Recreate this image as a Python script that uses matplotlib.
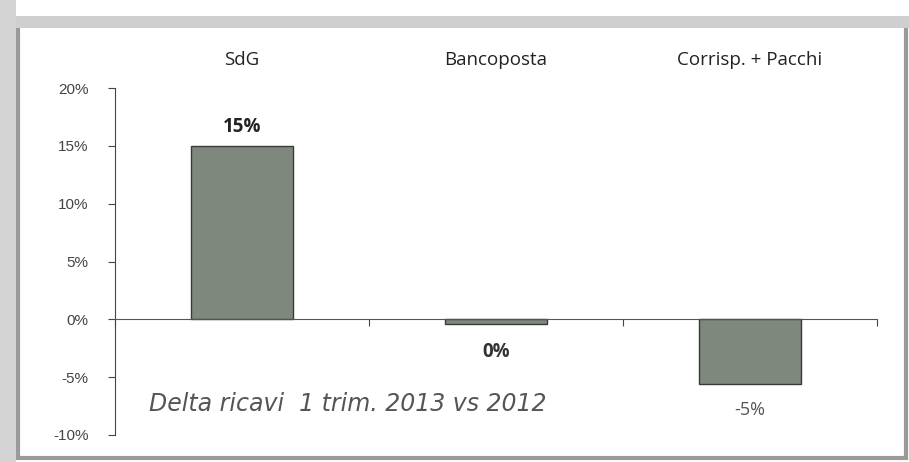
import matplotlib.pyplot as plt
from matplotlib.patches import Rectangle
import numpy as np

# delta ricavi 1 trim. 2013 vs 2012
categories = ["SdG", "Bancoposta", "Corrisp. + Pacchi"]
values = [15.0, -0.4, -5.6]
value_labels = ["15%", "0%", "-5%"]
yticks = [-10, -5, 0, 5, 10, 15, 20]

W, H = 909, 462
fig = plt.figure(figsize=(W / 100, H / 100), dpi=100)
fig.patch.set_facecolor("white")

# scanned frame around the chart
fig.patches.append(Rectangle((18 / W, 4 / H), 888 / W, 434 / H, transform=fig.transFigure,
                             fill=False, edgecolor="#9a9a9a", linewidth=3))
fig.patches.append(Rectangle((0, 0), 16 / W, 1, transform=fig.transFigure,
                             facecolor="#d4d4d4", edgecolor="none"))
fig.patches.append(Rectangle((16 / W, 1 - 28 / H), 1, 12 / H, transform=fig.transFigure,
                             facecolor="#cfcfcf", edgecolor="none"))

ax = fig.add_axes([115 / W, 1 - 435 / H, (877 - 115) / W, (435 - 88) / H])
x = np.arange(len(categories))
ax.bar(x, values, width=0.40, color="#7f887c", edgecolor="#3a3a3a", linewidth=1.0)

ax.set_xlim(-0.5, len(categories) - 0.5)
ax.set_ylim(-10, 20)
ax.set_yticks(yticks)
ax.set_yticklabels([f"{t}%" for t in yticks], fontsize=11, color="#444444",
                   family="Liberation Sans")
ax.tick_params(axis="y", direction="out", length=5, width=0.8, color="#444444", pad=14)

ax.spines["top"].set_visible(False)
ax.spines["right"].set_visible(False)
ax.spines["left"].set_color("#444444")
ax.spines["bottom"].set_position(("data", 0))
ax.spines["bottom"].set_color("#555555")
ax.set_xticks(np.arange(len(categories) + 1) - 0.5)
ax.set_xticklabels([])
ax.tick_params(axis="x", direction="out", length=5, width=0.8, color="#444444")

# category names above the plot
for i, name in enumerate(categories):
    ax.text(i, 1.08, name, transform=ax.get_xaxis_transform(), ha="center", va="center",
            fontsize=13.5, color="#222222", family="Open Sans")

# value labels
ax.text(0, values[0] + 1.6, value_labels[0], ha="center", va="center",
        fontsize=13.5, fontweight="bold", color="#222222", family="Open Sans")
ax.text(1, -2.8, value_labels[1], ha="center", va="center",
        fontsize=13.5, fontweight="bold", color="#333333", family="Open Sans")
ax.text(2, values[2] - 2.2, value_labels[2], ha="center", va="center",
        fontsize=13, color="#555555", family="Open Sans")

ax.text(0.045, -7.3, "Delta ricavi  1 trim. 2013 vs 2012", ha="left", va="center",
        fontsize=17, style="italic", color="#555555", family="DejaVu Sans",
        transform=ax.get_yaxis_transform())

fig.savefig("out.png", dpi=100)
